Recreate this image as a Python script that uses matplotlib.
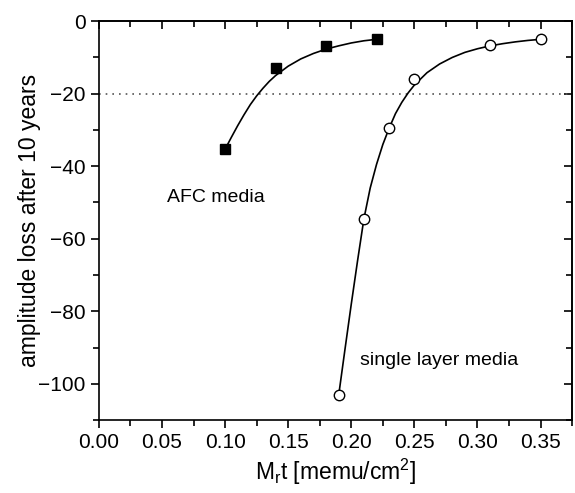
import matplotlib.pyplot as plt
from matplotlib.ticker import MultipleLocator

plt.rcParams['font.family'] = ['Liberation Sans', 'DejaVu Sans']

# measured points
afc_x = [0.10, 0.14, 0.18, 0.22]
afc_y = [-35.3, -13.0, -6.8, -5.0]
single_x = [0.19, 0.21, 0.23, 0.25, 0.31, 0.35]
single_y = [-103.2, -54.5, -29.5, -16.0, -6.5, -5.0]

# fitted curves
afc_fit_x = [0.100, 0.105, 0.110, 0.115, 0.120, 0.125, 0.130, 0.135, 0.140, 0.150,
             0.160, 0.170, 0.180, 0.190, 0.200, 0.210, 0.220]
afc_fit_y = [-35.3, -32.0, -28.8, -25.8, -23.0, -20.6, -18.5, -16.6, -15.0, -12.4,
             -10.4, -8.9, -7.7, -6.8, -6.0, -5.4, -5.0]
single_fit_x = [0.190, 0.195, 0.200, 0.205, 0.210, 0.215, 0.220, 0.225, 0.230, 0.235,
                0.240, 0.245, 0.250, 0.260, 0.270, 0.280, 0.290, 0.300, 0.310,
                0.320, 0.330, 0.340, 0.350]
single_fit_y = [-103.2, -90.5, -78.0, -66.0, -54.5, -46.0, -39.5, -34.0, -29.5, -25.5,
                -22.4, -19.8, -17.6, -14.2, -11.8, -10.0, -8.6, -7.6, -6.8,
                -6.2, -5.7, -5.3, -5.0]

threshold = -20

fig = plt.figure(figsize=(5.75, 4.93), dpi=100)
ax = fig.add_axes([0.172, 0.148, 0.823, 0.809])

ax.axhline(threshold, color='#555555', ls=(0, (1, 3)), lw=1.2, zorder=1)
ax.plot(afc_fit_x, afc_fit_y, color='black', lw=1.2, zorder=2)
ax.plot(single_fit_x, single_fit_y, color='black', lw=1.2, zorder=2)
ax.plot(afc_x, afc_y, 's', color='black', ms=7, zorder=3)
ax.plot(single_x, single_y, 'o', mfc='white', mec='black', mew=1.0, ms=7.5, zorder=3)

ax.text(0.054, -48.5, 'AFC media', fontsize=14, va='center')
ax.text(0.207, -93.5, 'single layer media', fontsize=14, va='center')

ax.set_xlim(0, 0.375)
ax.set_ylim(-110, 0)
ax.xaxis.set_major_locator(MultipleLocator(0.05))
ax.xaxis.set_minor_locator(MultipleLocator(0.025))
ax.yaxis.set_major_locator(MultipleLocator(20))
ax.yaxis.set_minor_locator(MultipleLocator(10))
ax.xaxis.set_major_formatter(plt.FormatStrFormatter('%.2f'))

ax.tick_params(which='both', direction='out', width=1.2, labelsize=15, top=False, right=False)
ax.tick_params(which='major', length=6)
ax.tick_params(which='minor', length=4)

top = ax.secondary_xaxis('top')
top.xaxis.set_major_locator(MultipleLocator(0.05))
top.xaxis.set_minor_locator(MultipleLocator(0.025))
top.tick_params(which='both', direction='in', width=1.2, labeltop=False)
top.tick_params(which='major', length=6)
top.tick_params(which='minor', length=4)
right = ax.secondary_yaxis('right')
right.yaxis.set_major_locator(MultipleLocator(20))
right.yaxis.set_minor_locator(MultipleLocator(10))
right.tick_params(which='both', direction='in', width=1.2, labelright=False)
right.tick_params(which='major', length=6)
right.tick_params(which='minor', length=4)

for s in ax.spines.values():
    s.set_linewidth(1.2)
top.spines['top'].set_linewidth(1.2)
right.spines['right'].set_linewidth(1.2)

ax.set_xlabel(r'M$_\mathregular{r}$t [memu/cm$^\mathregular{2}$]', fontsize=16.5, labelpad=3)
ax.set_ylabel('amplitude loss after 10 years', fontsize=16.5, labelpad=-2)

fig.savefig('out.png', dpi=100)
